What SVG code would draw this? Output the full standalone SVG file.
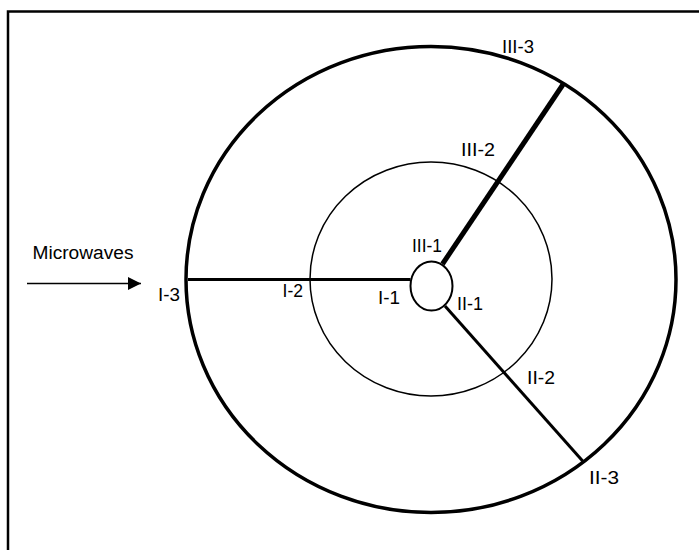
<svg xmlns="http://www.w3.org/2000/svg" width="699" height="550" viewBox="0 0 699 550">
<defs>
<style>
.lbl{font-family:"Liberation Sans",Arial,sans-serif;font-size:18px;fill:#000}
.ring{fill:none;stroke:#000}
.ray{stroke:#000;fill:none}
</style>
<marker id="ah" viewBox="0 0 10 10" refX="10" refY="5" markerWidth="14" markerHeight="13" markerUnits="userSpaceOnUse" orient="auto">
<path d="M0,0 L10,5 L0,10 z" fill="#000"/>
</marker>
</defs>
<rect width="699" height="550" fill="#fff"/>
<g id="frame">
<path d="M8,550 V11.5 H699" fill="none" stroke="#000" stroke-width="2.5"/>
</g>
<g id="outer-ring"><ellipse class="ring" cx="431" cy="279.5" rx="245" ry="233" stroke-width="3.5"/></g>
<g id="middle-ring"><ellipse class="ring" cx="431" cy="279" rx="121" ry="117" stroke-width="1.5"/></g>
<g id="inner-ring"><ellipse class="ring" cx="431.5" cy="286" rx="21" ry="24.5" stroke-width="2"/></g>
<g id="connectors">
<line class="ray" x1="188" y1="279.5" x2="410.5" y2="279.5" stroke-width="3"/>
<line class="ray" x1="442.5" y1="264" x2="563" y2="84.5" stroke-width="5"/>
<line class="ray" x1="445" y1="306" x2="584" y2="462.5" stroke-width="3"/>
<line class="ray" x1="27" y1="283.5" x2="141" y2="283.5" stroke-width="1.5" marker-end="url(#ah)"/>
</g>
<g id="labels">
<text class="lbl" x="32.5" y="258.5" textLength="101" lengthAdjust="spacingAndGlyphs">Microwaves</text>
<text class="lbl" x="158" y="300.5" textLength="22" lengthAdjust="spacingAndGlyphs">I-3</text>
<text class="lbl" x="282.5" y="296.5" textLength="20.5" lengthAdjust="spacingAndGlyphs">I-2</text>
<text class="lbl" x="378" y="303.5" textLength="22" lengthAdjust="spacingAndGlyphs">I-1</text>
<text class="lbl" x="412" y="251.5" textLength="30" lengthAdjust="spacingAndGlyphs">III-1</text>
<text class="lbl" x="457" y="309.5" textLength="26" lengthAdjust="spacingAndGlyphs">II-1</text>
<text class="lbl" x="461" y="155.5" textLength="34" lengthAdjust="spacingAndGlyphs">III-2</text>
<text class="lbl" x="527" y="383.5" textLength="28" lengthAdjust="spacingAndGlyphs">II-2</text>
<text class="lbl" x="589" y="483.5" textLength="30" lengthAdjust="spacingAndGlyphs">II-3</text>
<text class="lbl" x="502" y="52.5" textLength="32" lengthAdjust="spacingAndGlyphs">III-3</text>
</g>
</svg>
